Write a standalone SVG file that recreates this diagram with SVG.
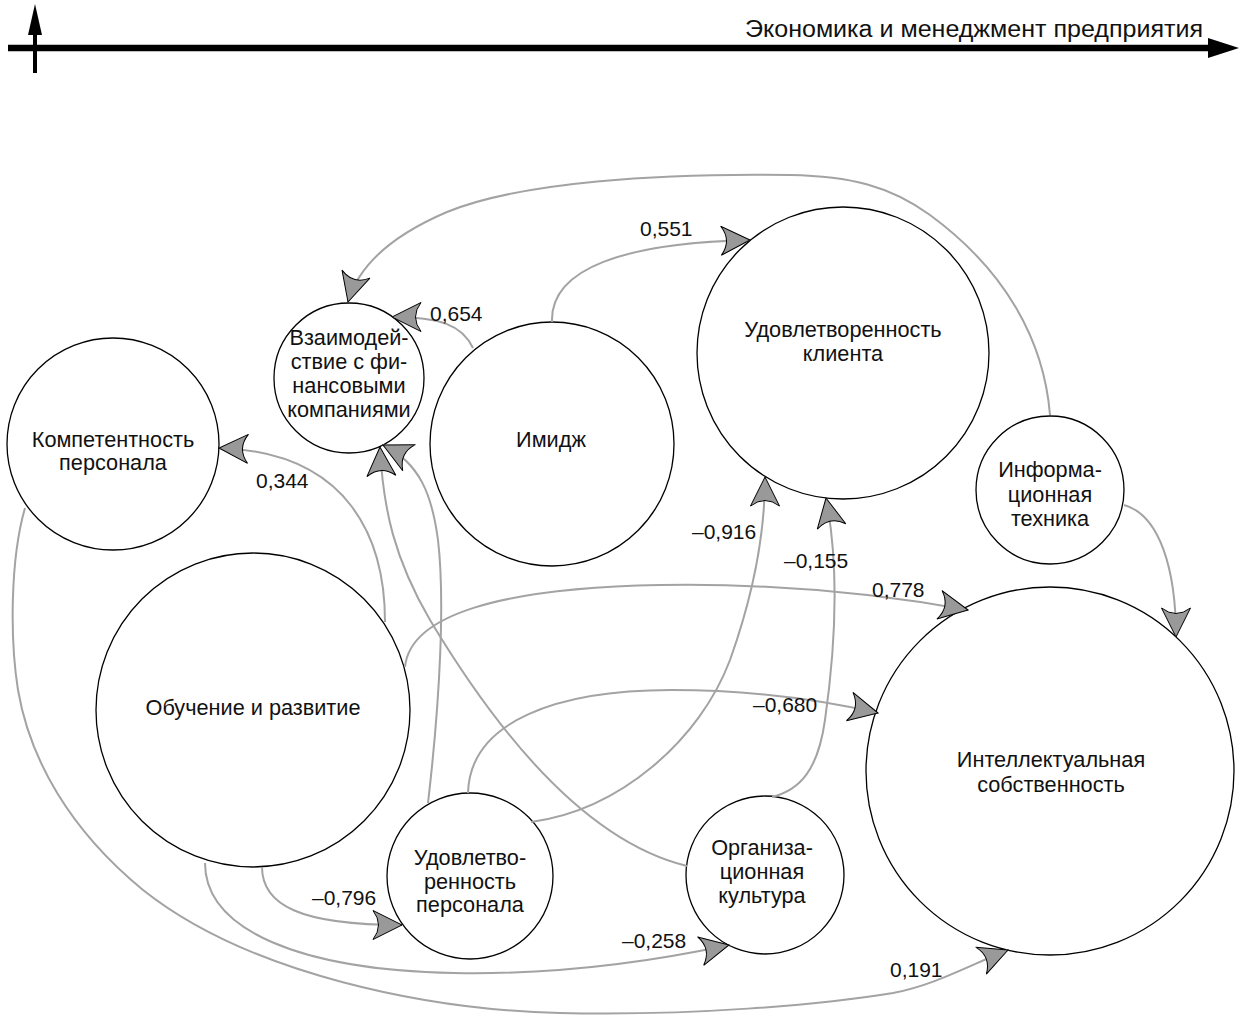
<svg xmlns="http://www.w3.org/2000/svg" width="1239" height="1016" viewBox="0 0 1239 1016">
<style>
.node circle{fill:#fff;stroke:#000;stroke-width:1.3}
.node text{font-family:"Liberation Sans",Arial,sans-serif;font-size:21.7px;fill:#111;text-anchor:middle}
.conn path{fill:none;stroke:#a3a3a3;stroke-width:2;marker-end:url(#ah)}
.lbl{font-family:"Liberation Sans",Arial,sans-serif;font-size:21px;fill:#111}
</style>
<defs>
<marker id="ah" markerUnits="userSpaceOnUse" viewBox="-32 -17 34 34" markerWidth="34" markerHeight="34" refX="0" refY="0" orient="auto">
<path d="M0,0 L-29,-14.5 Q-18,0 -29,14.5 Z" fill="#999" stroke="#000" stroke-width="1"/>
</marker>
</defs>
<rect width="1239" height="1016" fill="#fff"/>
<g id="header">
<line x1="8" y1="48" x2="1212" y2="48" stroke="#000" stroke-width="6.5"/>
<polygon points="1239,48 1208,38 1208,58" fill="#000"/>
<line x1="35" y1="30" x2="35" y2="73" stroke="#000" stroke-width="4"/>
<polygon points="35,4 28,35 42,35" fill="#000"/>
<text x="1203" y="37" font-family="'Liberation Sans',Arial,sans-serif" font-size="23" text-anchor="end" textLength="458" lengthAdjust="spacingAndGlyphs" fill="#111">Экономика и менеджмент предприятия</text>
</g>
<g id="n-vzaim" class="node"><circle cx="349" cy="378" r="75"/><text x="349" y="345">Взаимодей-</text><text x="349" y="369">ствие с фи-</text><text x="349" y="393">нансовыми</text><text x="349" y="417">компаниями</text></g>
<g id="n-imidzh" class="node"><circle cx="552" cy="444" r="122"/><text x="551" y="447">Имидж</text></g>
<g id="n-udkl" class="node"><circle cx="843" cy="353" r="146"/><text x="843" y="337">Удовлетворенность</text><text x="843" y="361">клиента</text></g>
<g id="n-komp" class="node"><circle cx="113" cy="444" r="106"/><text x="113" y="447">Компетентность</text><text x="113" y="470">персонала</text></g>
<g id="n-info" class="node"><circle cx="1050" cy="490" r="74"/><text x="1050" y="477">Информа-</text><text x="1050" y="502">ционная</text><text x="1050" y="526">техника</text></g>
<g id="n-obuch" class="node"><circle cx="253" cy="710" r="157"/><text x="253" y="715">Обучение и развитие</text></g>
<g id="n-intel" class="node"><circle cx="1050" cy="771" r="184"/><text x="1051" y="767">Интеллектуальная</text><text x="1051" y="792">собственность</text></g>
<g id="n-udpers" class="node"><circle cx="470" cy="876" r="83"/><text x="470" y="865">Удовлетво-</text><text x="470" y="889">ренность</text><text x="470" y="912">персонала</text></g>
<g id="n-org" class="node"><circle cx="765" cy="875" r="79"/><text x="762" y="855">Организа-</text><text x="762" y="879">ционная</text><text x="762" y="903">культура</text></g>
<g id="connectors" class="conn">
<path d="M552,322 C550,268 625,243 750,240"/>
<path d="M473,348 C462,325 440,317 392,317"/>
<path d="M1050,415 C1044,340 1005,270 930,215 C890,186 850,176 790,175 C660,173 520,182 447,212 C400,232 360,260 348,302"/>
<path d="M1124,505 C1160,515 1176,570 1176,637"/>
<path d="M385,622 C385,540 350,452 219,448"/>
<path d="M687,866 C580,840 490,720 430,620 C395,560 383,510 380,447"/>
<path d="M428,803 C440,700 445,600 438,540 C432,495 420,463 383,445"/>
<path d="M405,667 C410,615 500,588 660,585 C780,583 880,594 968,610"/>
<path d="M468,793 C470,720 560,690 671,690 C760,690 830,702 878,713"/>
<path d="M531,822 C620,810 700,740 730,660 C755,590 765,530 765,477"/>
<path d="M772,797 C800,790 818,770 825,720 C835,650 840,570 826,498"/>
<path d="M25,508 C10,560 10,640 18,690 C30,760 70,830 143,890 C250,975 430,1010 560,1013 C690,1016 820,1005 893,993 C935,985 970,965 1008,950"/>
<path d="M205,863 C205,930 300,970 454,973 C560,975 650,962 729,945"/>
<path d="M262,867 C262,905 300,925 402,925"/>
</g>
<g id="labels" class="lbl">
<text x="640" y="236">0,551</text>
<text x="430" y="321">0,654</text>
<text x="256" y="488">0,344</text>
<text x="692" y="539">–0,916</text>
<text x="784" y="568">–0,155</text>
<text x="872" y="597">0,778</text>
<text x="753" y="712">–0,680</text>
<text x="312" y="905">–0,796</text>
<text x="622" y="948">–0,258</text>
<text x="890" y="977">0,191</text>
</g>
</svg>
